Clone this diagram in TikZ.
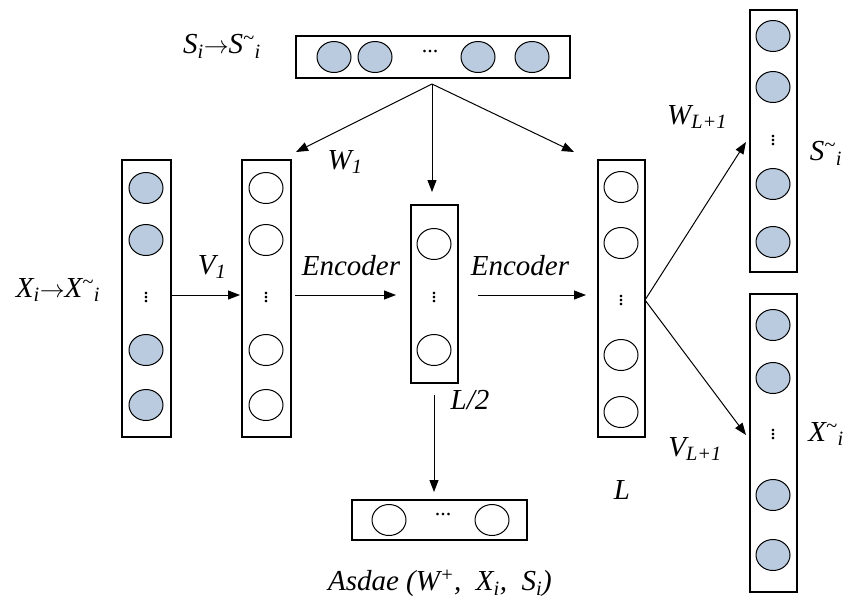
\documentclass[tikz,border=0pt]{standalone}
\usepackage{fontspec}
\setmainfont{Liberation Serif}
\usetikzlibrary{arrows.meta,shapes.geometric}
\definecolor{nb}{HTML}{BACBDF}
\begin{document}
\begin{tikzpicture}[x=1pt,y=-1pt,
  box/.style={draw,line width=1.2pt},
  cf/.style={draw,line width=1pt,fill=nb,ellipse,minimum width=34pt,minimum height=31pt,inner sep=0pt},
  ce/.style={draw,line width=1pt,fill=white,ellipse,minimum width=34pt,minimum height=31pt,inner sep=0pt},
  ar/.style={-{Triangle[length=12pt,width=9pt]},line width=1pt},
  lb/.style={font=\itshape\fontsize{29}{31}\selectfont,inner sep=1pt},
  dt/.style={font=\fontsize{22}{24}\selectfont,inner sep=0pt}]
\useasboundingbox (0,0) rectangle (845,614);
% top bar
\draw[box] (296,36) rectangle (570,78);
\node[cf] (t1) at (334,57) {}; \node[cf] (t2) at (375,57) {};
\node[dt] (td) at (430,52) {...};
\node[cf] (t3) at (478,57) {}; \node[cf] (t4) at (532,57) {};
\node[lb,anchor=east] (sl) at (262,46) {S\textsubscript{i}$\rightarrow$S\textsuperscript{\textasciitilde}\textsubscript{i}};
% col1
\draw[box] (122,160) rectangle (171,437);
\foreach \y/\n in {188/a1,240/a2,350/a3,405/a4}{\node[cf] (\n) at (146,\y) {};}
\node[dt] (ad) at (146,295) {$\vdots$};
\node[lb] (xl) at (58,290) {X\textsubscript{i}$\rightarrow$X\textsuperscript{\textasciitilde}\textsubscript{i}};
% col2
\draw[box] (242,160) rectangle (291,437);
\foreach \y/\n in {188/b1,240/b2,350/b3,405/b4}{\node[ce] (\n) at (266,\y) {};}
\node[dt] (bd) at (266,295) {$\vdots$};
% col3
\draw[box] (411,205) rectangle (458,383);
\node[ce] (c1) at (434,244) {}; \node[ce] (c2) at (434,350) {};
\node[dt] (cd) at (434,295) {$\vdots$};
% col4
\draw[box] (598,160) rectangle (645,437);
\foreach \y/\n in {187/d1,243/d2,355/d3,412/d4}{\node[ce] (\n) at (621,\y) {};}
\node[dt] (dd) at (621,298) {$\vdots$};
% right top
\draw[box] (750,10) rectangle (797,272);
\foreach \y/\n in {36/e1,87/e2,184/e3,242/e4}{\node[cf] (\n) at (773,\y) {};}
\node[dt] (ed) at (773,138) {$\vdots$};
\node[lb] (sr) at (826,153) {S\textsuperscript{\textasciitilde}\textsubscript{i}};
% right bottom
\draw[box] (750,294) rectangle (797,592);
\foreach \y/\n in {325/f1,378/f2,495/f3,555/f4}{\node[cf] (\n) at (773,\y) {};}
\node[dt] (fd) at (773,432) {$\vdots$};
\node[lb] (xr) at (826,434) {X\textsuperscript{\textasciitilde}\textsubscript{i}};
% bottom bar
\draw[box] (352,500) rectangle (527,540);
\node[ce] (g1) at (389,520) {}; \node[ce] (g2) at (492,520) {};
\node[dt] (gd) at (443,514) {...};
\node[lb] (asd) at (440,583) {Asdae (W\textsuperscript{+},\ \ X\textsubscript{i},\ \ S\textsubscript{i})};
% arrows
\coordinate (tb) at (432,84);
\coordinate (w1e) at (296,152); \coordinate (mde) at (432,192); \coordinate (rte) at (574,152);
\draw[ar] (tb) -- (w1e); \draw[ar] (tb) -- (mde); \draw[ar] (tb) -- (rte);
\node[lb] (w1) at (345,162) {W\textsubscript{1}};
\coordinate (v1s) at (171,295); \coordinate (v1e) at (240,295);
\draw[ar] (v1s) -- (v1e); \node[lb] (v1) at (212,267) {V\textsubscript{1}};
\coordinate (e1s) at (295,295); \coordinate (e1e) at (396,295);
\draw[ar] (e1s) -- (e1e); \node[lb] (en1) at (351,266) {Encoder};
\coordinate (e2s) at (478,295); \coordinate (e2e) at (586,295);
\draw[ar] (e2s) -- (e2e); \node[lb] (en2) at (520,266) {Encoder};
\node[lb] (l2) at (470,400) {L/2};
\coordinate (ds) at (434,395); \coordinate (de) at (434,492);
\draw[ar] (ds) -- (de);
\node[lb] (ll) at (622,490) {L};
\coordinate (sp) at (645,300); \coordinate (wu) at (746,142); \coordinate (vd) at (746,435);
\draw[ar] (sp) -- (wu); \draw[ar] (sp) -- (vd);
\node[lb] (wl) at (697,117) {W\textsubscript{L+1}};
\node[lb] (vl) at (695,449) {V\textsubscript{L+1}};
\end{tikzpicture}
\end{document}
